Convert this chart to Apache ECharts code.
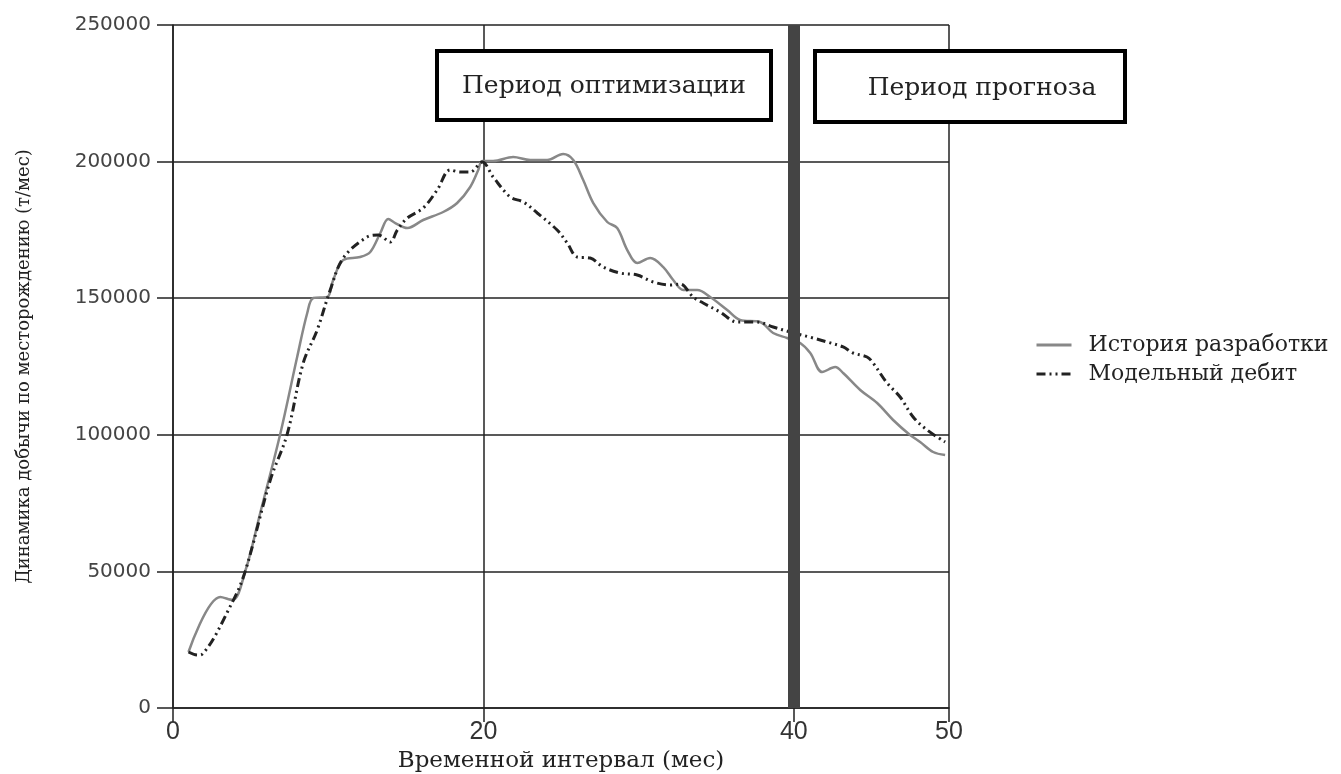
<!DOCTYPE html>
<html><head><meta charset="utf-8">
<script src="https://cdn.jsdelivr.net/npm/echarts@6/dist/echarts.min.js"></script>
<style>html,body{margin:0;padding:0;background:#fff}#c{width:1341px;height:774px}</style>
</head><body><div id="c"></div>
<script>
// Historical production [month, t/month]
const historyX = [1.0,3.05,3.83,4.66,5.62,6.91,8.0,8.65,9.04,9.94,10.32,10.97,12.06,12.71,13.36,13.87,14.32,15.1,16.12,17.41,18.31,19.15,19.67,19.92,20.63,21.92,23.02,24.11,25.14,25.79,26.43,27.08,27.98,28.62,29.27,29.91,30.75,31.59,32.23,32.88,33.78,34.61,35.71,36.54,37.83,38.67,39.57,40.41,41.06,41.83,42.67,43.18,44.28,45.37,46.4,47.49,48.14,48.98,49.75];
const historyY = [20500,40630,39530,50150,71380,100290,128480,144580,150070,150440,156660,163980,165080,166910,173860,178990,177520,175690,178620,181550,184840,190700,196920,200220,200220,201680,200580,200580,202780,200580,193260,184840,177890,175690,167640,162880,164710,161410,156660,153000,153000,150440,145680,142020,141290,137260,135430,133600,129940,122980,124810,122620,116400,111640,105420,99930,97370,93710,92610];
// Model rate
const modelX = [1.0,1.57,1.89,3.83,4.66,6.27,7.36,8.39,9.29,10.13,10.97,12.51,13.22,14.0,14.45,15.1,16.12,17.02,17.86,18.5,19.15,19.92,20.63,21.73,22.57,23.47,24.75,25.4,26.04,26.88,27.72,28.81,29.91,30.94,32.03,32.68,33.51,34.16,35.25,36.35,37.64,38.67,39.76,41.25,42.15,43.18,43.82,44.72,45.11,46.01,46.85,47.69,48.59,49.75];
const modelY = [20500,19400,19760,38800,50150,83450,100290,126280,138360,153000,164710,172400,173130,170570,174960,179350,183020,189600,196920,196190,196190,199850,194360,187040,185210,181180,174960,170200,165080,164710,161410,159220,158490,155930,154830,155190,150440,148240,144950,141290,141290,139460,137630,135430,133970,132140,129940,128480,126280,118960,113840,106520,101760,97370];
const seriesNames = ['История разработки', 'Модельный дебит'];
const boxTexts = ['Период оптимизации', 'Период прогноза'];
const splitMonth = 40;
const xTitle = 'Временной интервал (мес)';
const yTitle = 'Динамика добычи по месторождению (т/мес)';

const pair = (xs, ys) => xs.map((x, i) => [x, ys[i]]);
const serif = 'DejaVu Serif';
const chart = echarts.init(document.getElementById('c'));
chart.setOption({
  animation: false,
  backgroundColor: '#fff',
  grid: { left: 173, right: 392, top: 25, bottom: 66, containLabel: false, outerBoundsMode: 'none' },
  xAxis: {
    type: 'value', min: 0, max: 50, interval: 20,
    name: xTitle, nameLocation: 'middle', nameGap: 39,
    nameTextStyle: { fontFamily: serif, fontSize: 23, color: '#222' },
    axisLine: { show: true, onZero: false, lineStyle: { color: '#222', width: 1.5 } },
    axisTick: { show: true, length: 14, lineStyle: { color: '#222', width: 1.5 } },
    axisLabel: { fontFamily: 'Liberation Sans Narrow, Liberation Sans', fontSize: 25, color: '#333', margin: 12 },
    splitLine: { show: true, lineStyle: { color: '#222', width: 1.5 } }
  },
  yAxis: {
    type: 'value', min: 0, max: 250000, interval: 50000,
    name: yTitle, nameLocation: 'middle', nameGap: 140,
    nameTextStyle: { fontFamily: serif, fontSize: 18, color: '#222' },
    axisLine: { show: true, lineStyle: { color: '#222', width: 1.5 } },
    axisTick: { show: true, length: 16, lineStyle: { color: '#222', width: 1.5 } },
    axisLabel: { fontFamily: 'DejaVu Sans', fontSize: 20, color: '#444', margin: 22, formatter: v => String(v) },
    splitLine: { show: true, lineStyle: { color: '#222', width: 1.5 } }
  },
  legend: {
    orient: 'vertical', left: 1030, top: 329, itemWidth: 35, itemHeight: 12, itemGap: 7,
    itemStyle: { opacity: 0 },
    lineStyle: { width: 3 },
    textStyle: { fontFamily: serif, fontSize: 22, color: '#222', padding: [0, 0, 0, 12] },
    data: seriesNames
  },
  series: [
    {
      name: seriesNames[0], type: 'line', data: pair(historyX, historyY),
      smooth: 0.35, symbol: 'none',
      lineStyle: { color: '#888', width: 2.5 }, itemStyle: { color: '#888' }, z: 3
    },
    {
      name: seriesNames[1], type: 'line', data: pair(modelX, modelY),
      smooth: 0.35, symbol: 'none',
      lineStyle: { color: '#222', width: 3, type: [9, 4, 2, 4, 2, 4] }, itemStyle: { color: '#222' }, z: 4,
      markLine: {
        silent: true, symbol: 'none', label: { show: false },
        lineStyle: { color: '#444', width: 12, type: 'solid' },
        data: [{ xAxis: splitMonth }]
      }
    }
  ],
  graphic: [
    { type: 'rect', shape: { x: 437, y: 51, width: 334, height: 69 },
      style: { fill: '#fff', stroke: '#000', lineWidth: 4 }, z: 100 },
    { type: 'text', x: 604, y: 86, style: { text: boxTexts[0], fontFamily: serif, fontSize: 25, fill: '#222', align: 'center', verticalAlign: 'middle' }, z: 101 },
    { type: 'rect', shape: { x: 815, y: 51, width: 310, height: 71 },
      style: { fill: '#fff', stroke: '#000', lineWidth: 4 }, z: 100 },
    { type: 'text', x: 982, y: 88, style: { text: boxTexts[1], fontFamily: serif, fontSize: 25, fill: '#222', align: 'center', verticalAlign: 'middle' }, z: 101 }
  ]
});
</script></body></html>
